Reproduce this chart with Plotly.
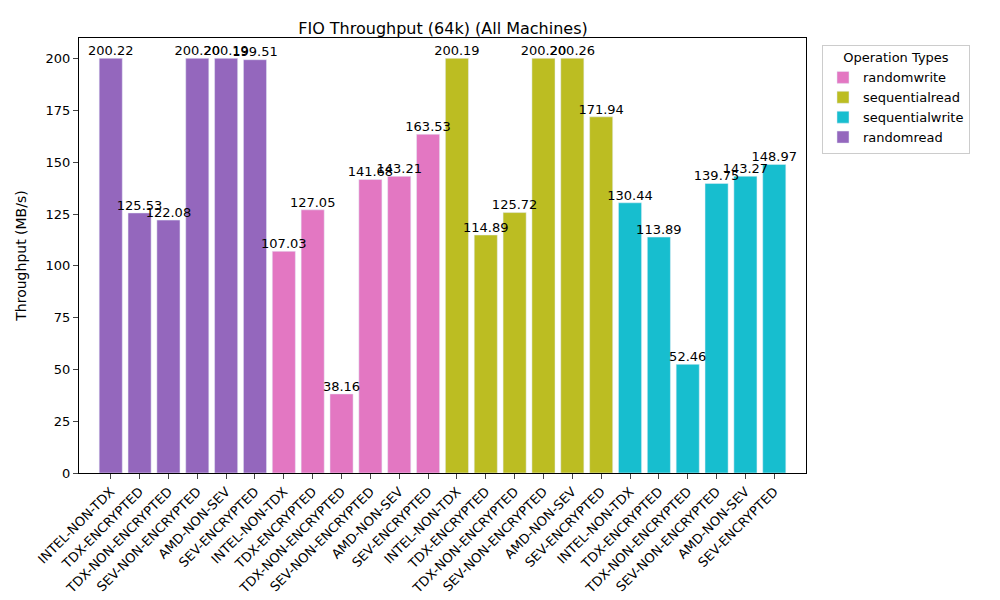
import plotly.graph_objects as go

machines = ["INTEL-NON-TDX", "TDX-ENCRYPTED", "TDX-NON-ENCRYPTED",
            "SEV-NON-ENCRYPTED", "AMD-NON-SEV", "SEV-ENCRYPTED"]
randomread = [200.22, 125.53, 122.08, 200.20, 200.19, 199.51]
randomwrite = [107.03, 127.05, 38.16, 141.68, 143.21, 163.53]
sequentialread = [200.19, 114.89, 125.72, 200.20, 200.26, 171.94]
sequentialwrite = [130.44, 113.89, 52.46, 139.75, 143.27, 148.97]

groups = [("randomread", randomread, "#9467bd"),
          ("randomwrite", randomwrite, "#e377c2"),
          ("sequentialread", sequentialread, "#bcbd22"),
          ("sequentialwrite", sequentialwrite, "#17becf")]
legend_rank = {"randomwrite": 1, "sequentialread": 2, "sequentialwrite": 3, "randomread": 4}

fig = go.Figure()
ticktext = []
for gi, (name, vals, color) in enumerate(groups):
    xs = [gi * len(machines) + i for i in range(len(machines))]
    ticktext += machines
    fig.add_trace(go.Bar(
        x=xs, y=vals, name=name, marker_color=color, width=0.8,
        legendrank=legend_rank[name]))
    fig.add_trace(go.Scatter(
        x=xs, y=vals, mode="text", text=[f"{v:.2f}" for v in vals],
        textposition="top center", textfont=dict(size=13, color="black"),
        showlegend=False, hoverinfo="skip", cliponaxis=False))

fig.update_layout(
    width=1000, height=600,
    font=dict(family="DejaVu Sans", size=12, color="black"),
    title=dict(text="FIO Throughput (64k) (All Machines)", x=0.435, xanchor="center",
               y=0.975, font=dict(size=16)),
    plot_bgcolor="white", paper_bgcolor="white",
    margin=dict(l=71, r=202, t=30, b=135),
    showlegend=True,
    legend=dict(title=dict(text="Operation Types", side="top center", font=dict(size=13)),
                x=1.022, y=0.985, xanchor="left", yanchor="top",
                bordercolor="#cccccc", borderwidth=1, font=dict(size=13)),
    bargap=0.2,
)
fig.update_xaxes(tickvals=list(range(24)), ticktext=ticktext, tickangle=-45,
                 range=[-1.1, 24.1], showline=True, mirror=True, linecolor="black",
                 ticks="outside", tickfont=dict(size=13))
fig.update_yaxes(title_text="Throughput (MB/s)", range=[0, 210], dtick=25,
                 showline=True, mirror=True, linecolor="black", ticks="outside",
                 showgrid=False, zeroline=False, tickfont=dict(size=13))
fig.write_html("out.html")
